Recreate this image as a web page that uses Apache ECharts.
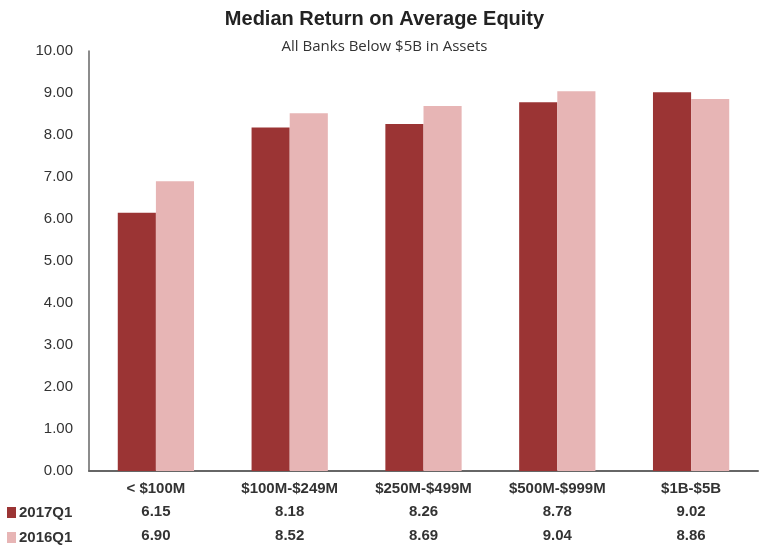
<!DOCTYPE html>
<html>
<head>
<meta charset="utf-8">
<script src="https://cdn.jsdelivr.net/npm/echarts@6/dist/echarts.min.js"></script>
<style>
  html, body { margin: 0; padding: 0; background: #fff; }
  #chart { width: 769px; height: 548px; }
</style>
</head>
<body>
<div id="chart"></div>
<script>
const categories = ['< $100M', '$100M-$249M', '$250M-$499M', '$500M-$999M', '$1B-$5B'];
const q2017 = [6.15, 8.18, 8.26, 8.78, 9.02];
const q2016 = [6.90, 8.52, 8.69, 9.04, 8.86];
const seriesNames = ['2017Q1', '2016Q1'];
const colors = ['#9b3434', '#e7b5b5'];

const font = '"Liberation Sans Narrow", "Liberation Sans", Arial, sans-serif';

const chart = echarts.init(document.getElementById('chart'), null, { renderer: 'canvas' });

chart.setOption({
  animation: false,
  title: [
    {
      text: 'Median Return on Average Equity',
      left: 'center',
      top: 4,
      padding: [5, 16, 5, 0],
      textStyle: { fontFamily: font, fontSize: 20, fontWeight: 'bold', color: '#222' }
    },
    {
      text: 'All Banks Below $5B in Assets',
      left: 'center',
      top: 34,
      padding: [5, 20, 5, 0],
      textStyle: { fontFamily: '"Open Sans", sans-serif', fontSize: 15, fontWeight: 'normal', color: '#333' }
    }
  ],
  legend: seriesNames.map((n, i) => ({
    data: [n],
    left: 2,
    top: 500 + i * 25,
    icon: 'rect',
    itemWidth: 9,
    itemHeight: 11,
    itemGap: 4,
    textStyle: { fontFamily: font, fontSize: 15, fontWeight: 'bold', color: '#333', padding: [0, 0, 0, -2] }
  })),
  grid: { left: 89, right: 11, top: 51, bottom: 77 },
  xAxis: {
    type: 'category',
    data: categories,
    axisLine: { lineStyle: { color: '#666', width: 2 } },
    axisTick: { show: false },
    axisLabel: {
      margin: 7,
      interval: 0,
      formatter: (v, i) => `{c|${v}}\n{v|${q2017[i].toFixed(2)}}\n{v|${q2016[i].toFixed(2)}}`,
      rich: {
        c: { fontFamily: font, fontSize: 15, fontWeight: 'bold', color: '#333', lineHeight: 22 },
        v: { fontFamily: font, fontSize: 15, fontWeight: 'bold', color: '#333', lineHeight: 24 }
      }
    }
  },
  yAxis: {
    type: 'value',
    min: 0,
    max: 10,
    interval: 1,
    axisLine: { show: true, lineStyle: { color: '#666', width: 1.5 } },
    axisTick: { show: false },
    splitLine: { show: false },
    axisLabel: {
      margin: 16,
      formatter: v => v.toFixed(2),
      fontFamily: font,
      fontSize: 15,
      color: '#333'
    }
  },
  series: [
    { name: seriesNames[0], type: 'bar', data: q2017, itemStyle: { color: colors[0] }, barGap: '0%', barCategoryGap: '43%' },
    { name: seriesNames[1], type: 'bar', data: q2016, itemStyle: { color: colors[1] }, barGap: '0%', barCategoryGap: '43%' }
  ]
});
</script>
</body>
</html>
